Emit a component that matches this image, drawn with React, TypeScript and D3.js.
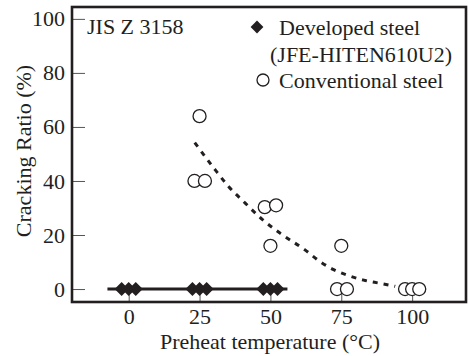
import React, { useEffect, useRef } from 'react';
import * as d3 from 'd3';

// developed steel (JFE-HITEN610U2): no cracking at any temperature
const developedTemp = [-2.5, 0, 2.5, 22.5, 25, 27.5, 47.5, 50, 52.5];
const developedRatio = [0, 0, 0, 0, 0, 0, 0, 0, 0];
const developedLine = [-7.5, 56];

// conventional steel
const conventionalTemp = [25, 23.2, 26.9, 48, 52, 50, 75, 73.5, 77, 97.5, 100, 102.5];
const conventionalRatio = [64, 40, 40, 30.3, 31, 16, 16, 0, 0, 0, 0, 0];

// dotted trend line for conventional steel
const trendTemp = [23.3, 30.6, 35.3, 41.2, 47.1, 53.5, 62.3, 67.6, 72.3, 77, 82.9, 88.7, 94];
const trendRatio = [54.2, 44, 37.9, 31.7, 25.8, 20.6, 14.4, 10.1, 7.2, 5.2, 3.3, 2.1, 1.0];

const xTicks = [0, 25, 50, 75, 100];
const yTicks = [0, 20, 40, 60, 80, 100];

const FONT = '"Liberation Serif", "Times New Roman", serif';
const INK = '#231f20';

const App = () => {
  const svgRef = useRef<SVGSVGElement>(null);

  useEffect(() => {
    const W = 469;
    const H = 356;
    const left = 72, right = 466, top = 7, bottom = 302;

    const svg = d3.select(svgRef.current).attr('width', W).attr('height', H);
    svg.selectAll('*').remove();

    const x = d3.scaleLinear().domain([-20, 119]).range([left, right]);
    const y = d3.scaleLinear().domain([-4.8, 104.4]).range([bottom, top]);

    // axes with inward ticks
    const xAxis = svg.append('g')
      .attr('transform', `translate(0,${bottom})`)
      .call(d3.axisBottom(x).tickValues(xTicks).tickSize(-12).tickPadding(6).tickFormat(d3.format('d')));
    const yAxis = svg.append('g')
      .attr('transform', `translate(${left},0)`)
      .call(d3.axisLeft(y).tickValues(yTicks).tickSize(-13).tickPadding(7).tickFormat(d3.format('d')));

    [xAxis, yAxis].forEach(g => {
      g.select('.domain').remove();
      g.selectAll('.tick line').attr('stroke', '#555').attr('stroke-width', 1);
      g.selectAll('.tick text')
        .attr('font-family', FONT)
        .attr('font-size', 22)
        .attr('fill', INK);
    });

    // frame
    svg.append('rect')
      .attr('x', left).attr('y', top)
      .attr('width', right - left).attr('height', bottom - top)
      .attr('fill', 'none').attr('stroke', INK).attr('stroke-width', 2.6);

    // trend line
    const trend = trendTemp.map((t, i) => [t, trendRatio[i]] as [number, number]);
    svg.append('path')
      .attr('d', d3.line().x(d => x(d[0])).y(d => y(d[1])).curve(d3.curveMonotoneX)(trend))
      .attr('fill', 'none')
      .attr('stroke', INK)
      .attr('stroke-width', 3)
      .attr('stroke-dasharray', '5 6');

    // developed steel line and diamonds
    svg.append('line')
      .attr('x1', x(developedLine[0])).attr('x2', x(developedLine[1]))
      .attr('y1', y(0)).attr('y2', y(0))
      .attr('stroke', INK).attr('stroke-width', 3);

    const diamond = d3.symbol().type(d3.symbolSquare).size(98);
    svg.append('g')
      .selectAll('path')
      .data(developedTemp)
      .enter()
      .append('path')
      .attr('d', diamond())
      .attr('transform', (d, i) => `translate(${x(d)},${y(developedRatio[i])}) rotate(45)`)
      .attr('fill', INK);

    // conventional steel circles
    svg.append('g')
      .selectAll('circle')
      .data(conventionalTemp)
      .enter()
      .append('circle')
      .attr('cx', d => x(d))
      .attr('cy', (d, i) => y(conventionalRatio[i]))
      .attr('r', 6.5)
      .attr('fill', 'white')
      .attr('stroke', INK)
      .attr('stroke-width', 1.3);

    const text = (tx: number, ty: number, s: string, anchor = 'start') =>
      svg.append('text')
        .attr('x', tx).attr('y', ty)
        .attr('text-anchor', anchor)
        .attr('font-family', FONT)
        .attr('font-size', 22)
        .attr('fill', INK)
        .text(s);

    text(87, 34, 'JIS Z 3158');

    // legend
    svg.append('path')
      .attr('d', d3.symbol().type(d3.symbolSquare).size(82)())
      .attr('transform', 'translate(257,27) rotate(45)')
      .attr('fill', INK);
    text(279, 35, 'Developed steel');
    text(270, 62, '(JFE-HITEN610U2)');
    svg.append('circle')
      .attr('cx', 263).attr('cy', 80).attr('r', 6)
      .attr('fill', 'white').attr('stroke', INK).attr('stroke-width', 1.3);
    text(279, 88, 'Conventional steel');

    // axis titles
    text(270, 349, 'Preheat temperature (°C)', 'middle');
    text(0, 0, 'Cracking Ratio (%)', 'middle')
      .attr('transform', 'translate(31,151) rotate(-90)');
  }, []);

  return (
    <svg ref={svgRef} style={{ position: 'absolute', left: 0, top: 0, background: 'white' }}></svg>
  );
};

export default App;
